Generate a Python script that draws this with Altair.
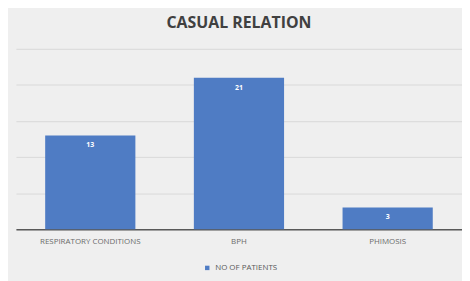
import altair as alt
import pandas as pd

categories = ["RESPIRATORY CONDITIONS", "BPH", "PHIMOSIS"]
patients = [13, 21, 3]
series = ["NO OF PATIENTS"] * 3

df = pd.DataFrame({"cond": categories, "n": patients, "series": series})

base = alt.Chart(df).encode(
    x=alt.X("cond:N", sort=categories, title=None,
            scale=alt.Scale(paddingInner=0.39, paddingOuter=0.195),
            axis=alt.Axis(labelAngle=0, ticks=False, domainColor="#595959",
                          domainWidth=1.5, labelColor="#6b6b6b", labelFontSize=8,
                          labelFont="Open Sans", labelPadding=8, grid=False)),
    y=alt.Y("n:Q", title=None, scale=alt.Scale(domain=[0, 25]),
            axis=alt.Axis(values=[0, 5, 10, 15, 20, 25], labels=False, ticks=False,
                          domain=False, gridColor="#d9d9d9", gridWidth=1)),
)

bars = base.mark_bar(size=91).encode(
    color=alt.Color("series:N", title=None,
                    scale=alt.Scale(range=["#4f7cc4"]),
                    legend=alt.Legend(orient="none", legendX=189, legendY=217,
                                      symbolType="square", symbolSize=20,
                                      labelFontSize=8, labelColor="#595959",
                                      labelFont="Open Sans", padding=0))
)

labels = base.mark_text(dy=10, color="white", fontSize=7, fontWeight="bold",
                        baseline="middle", font="Open Sans").encode(text="n:Q")

chart = (bars + labels).properties(
    width=450, height=182,
    title=alt.Title("CASUAL RELATION", fontSize=16, fontWeight="bold",
                    color="#404040", font="Open Sans", anchor="middle", offset=18),
    padding={"left": 8, "top": 6, "right": 0, "bottom": 8},
).configure(background="#efefef").configure_view(stroke=None)

chart.save("out.html", embed_options={"renderer": "svg", "actions": False})
